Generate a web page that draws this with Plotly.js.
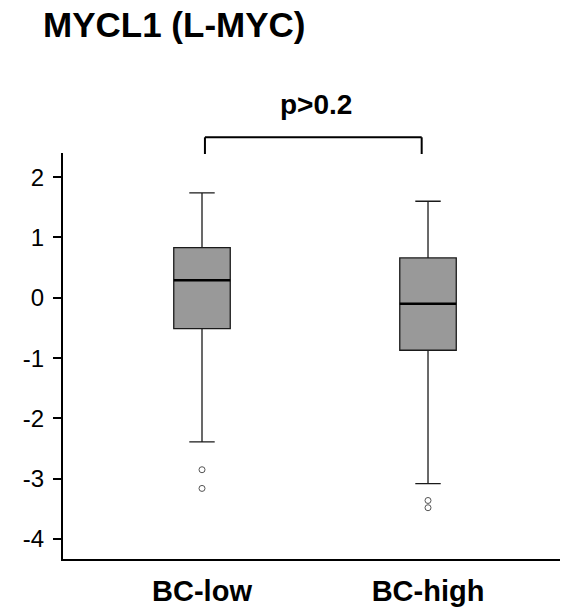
<!DOCTYPE html>
<html>
<head>
<meta charset="utf-8">
<script src="https://cdn.plot.ly/plotly-3.0.1.min.js"></script>
<style>html,body{margin:0;padding:0;background:#fff;}#chart{width:572px;height:607px;}</style>
</head>
<body>
<div id="chart"></div>
<script>
const categories = ['BC-low', 'BC-high'];
const q1 = [-0.51, -0.87];
const medians = [0.29, -0.10];
const q3 = [0.83, 0.66];
const lowerFence = [-2.39, -3.08];
const upperFence = [1.74, 1.60];
const outliersLow = [-2.85, -3.16];
const outliersHigh = [-3.36, -3.48];
const yTickVals = [-4, -3, -2, -1, 0, 1, 2];
const yTickText = ['-4', '-3', '-2', '-1', '0', '1', '2'];
const pLabel = 'p>0.2';
const chartTitle = 'MYCL1 (L-MYC)';

const FONT = 'Liberation Sans, Arial, sans-serif';

const boxTrace = {
  type: 'box',
  x: categories,
  q1: q1,
  median: medians,
  q3: q3,
  lowerfence: lowerFence,
  upperfence: upperFence,
  width: 0.25,
  whiskerwidth: 0.45,
  fillcolor: '#999999',
  line: {color: '#1a1a1a', width: 1.3},
  boxpoints: false,
  hoverinfo: 'skip',
  showlegend: false
};

// thick median line: a zero-height box at each median
const medianTrace = {
  type: 'box',
  x: categories,
  q1: medians,
  median: medians,
  q3: medians,
  lowerfence: medians,
  upperfence: medians,
  width: 0.25,
  whiskerwidth: 0,
  fillcolor: 'rgba(0,0,0,0)',
  line: {color: '#000000', width: 2.4},
  boxpoints: false,
  hoverinfo: 'skip',
  showlegend: false
};

const outX = [], outY = [];
outliersLow.forEach(v => { outX.push(categories[0]); outY.push(v); });
outliersHigh.forEach(v => { outX.push(categories[1]); outY.push(v); });

const outlierTrace = {
  type: 'scatter',
  mode: 'markers',
  x: outX,
  y: outY,
  marker: {symbol: 'circle-open', size: 6, color: '#555555', line: {width: 1, color: '#555555'}},
  showlegend: false,
  hoverinfo: 'skip'
};

const layout = {
  width: 572,
  height: 607,
  margin: {l: 63, r: 12, t: 153, b: 48},
  paper_bgcolor: '#ffffff',
  plot_bgcolor: '#ffffff',
  boxmode: 'overlay',
  font: {family: FONT, color: '#000000'},
  title: {
    text: '<b>' + chartTitle + '</b>',
    font: {family: FONT, size: 35, color: '#000000'},
    x: 43 / 572, xanchor: 'left', xref: 'container',
    y: 1 - 25 / 607, yanchor: 'middle', yref: 'container'
  },
  xaxis: {
    type: 'category',
    range: [-0.615, 1.584],
    showline: true, linecolor: '#000000', linewidth: 2,
    ticks: '', showgrid: false, zeroline: false,
    tickfont: {family: FONT, size: 29, color: '#000000'},
    tickvals: categories,
    ticktext: categories.map(c => '<b>' + c + '</b>'),
    ticklabelstandoff: 5
  },
  yaxis: {
    range: [-4.33, 2.40],
    showline: true, linecolor: '#000000', linewidth: 2,
    ticks: 'outside', ticklen: 8, tickwidth: 2, tickcolor: '#000000',
    tickvals: yTickVals,
    ticktext: yTickText,
    showgrid: false, zeroline: false,
    tickfont: {family: FONT, size: 24, color: '#000000'},
    ticklabelstandoff: 4
  },
  shapes: [
    {type: 'line', xref: 'x', yref: 'paper', x0: 0.013, x1: 0.972, y0: 1.0387, y1: 1.0387, line: {color: '#000', width: 2}},
    {type: 'line', xref: 'x', yref: 'paper', x0: 0.013, x1: 0.013, y0: 1.0387, y1: 0.9975, line: {color: '#000', width: 2}},
    {type: 'line', xref: 'x', yref: 'paper', x0: 0.972, x1: 0.972, y0: 1.0387, y1: 0.9975, line: {color: '#000', width: 2}}
  ],
  annotations: [
    {text: '<b>' + pLabel + '</b>', xref: 'x', yref: 'paper', x: 0.504, y: (559 - 104) / 406,
     xanchor: 'center', yanchor: 'middle', showarrow: false,
     font: {family: FONT, size: 28, color: '#000000'}}
  ]
};

Plotly.newPlot('chart', [boxTrace, medianTrace, outlierTrace], layout, {displayModeBar: false, staticPlot: true});
</script>
</body>
</html>
